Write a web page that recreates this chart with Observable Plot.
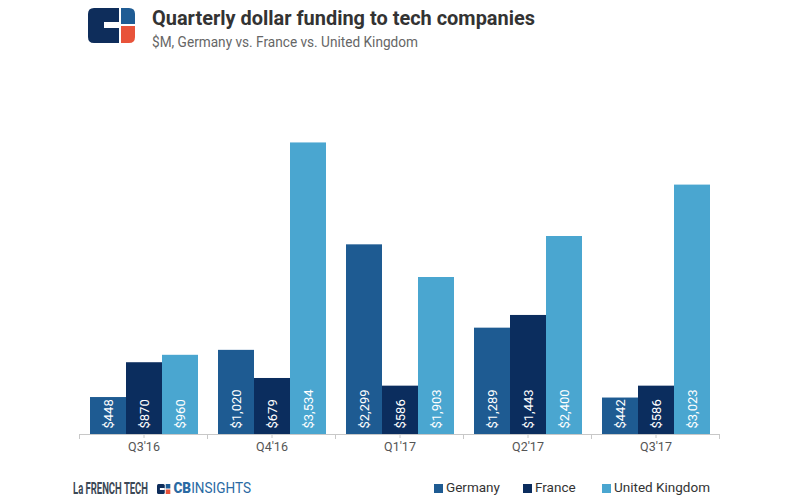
<!DOCTYPE html>
<html>
<head>
<meta charset="utf-8">
<script src="https://cdn.jsdelivr.net/npm/d3@7"></script>
<script src="https://cdn.jsdelivr.net/npm/@observablehq/plot@0.6"></script>
<style>
  html, body { margin: 0; padding: 0; background: #fff; }
  body { width: 800px; height: 500px; position: relative; overflow: hidden; font-family: Roboto, "Noto Sans", sans-serif; }
  #logo { position: absolute; left: 88px; top: 8px; }
  .fit { display: inline-block; transform-origin: left top; white-space: nowrap; }
  #title { position: absolute; left: 152px; top: 6px; font-size: 21px; font-weight: 700; color: #333; }
  #subtitle { position: absolute; left: 152px; top: 34px; font-size: 14px; color: #666; }
  #chart { position: absolute; left: 0; top: 70px; }
  #frenchtech { position: absolute; left: 73px; top: 478px; font-family: Roboto, sans-serif; font-weight: 700; font-size: 17px; color: #3b4856; }
  #cbi { position: absolute; left: 157px; top: 480px; font-size: 14px; color: #2a6aa3; }
  #legend { position: absolute; left: 0; top: 479px; font-size: 13.5px; color: #333; }
  .sw { position: absolute; width: 9px; height: 9px; top: 5px; }
  .lt { position: absolute; top: 0; white-space: nowrap; }
</style>
</head>
<body>
<svg id="logo" width="47" height="35" viewBox="0 0 47 35">
  <path d="M6 0 H31 V14 H16 V20 H31 V35 H6 Q0 35 0 29 V6 Q0 0 6 0 Z" fill="#0e2d5b"/>
  <path d="M33 0 H41 Q47 0 47 6 V16 H33 Z" fill="#1f5c94"/>
  <path d="M33 18 H47 V29 Q47 35 41 35 H33 Z" fill="#e8533a"/>
</svg>
<div id="title" class="fit" data-w="383">Quarterly dollar funding to tech companies</div>
<div id="subtitle" class="fit" data-w="266">$M, Germany vs. France vs. United Kingdom</div>
<div id="chart"></div>
<div id="frenchtech" class="fit" data-w="75">La FRENCH TECH</div>
<div id="cbi" class="fit" data-w="94"><svg width="14" height="10" viewBox="0 0 14 10" style="margin-right:3px;vertical-align:-1px">
    <rect x="0" y="0" width="8" height="10" rx="1.5" fill="#0e2d5b"/>
    <rect x="3" y="4" width="5" height="2" fill="#fff"/>
    <rect x="9" y="0" width="5" height="4.5" fill="#1f5c94"/>
    <rect x="9" y="5.5" width="5" height="4.5" fill="#e8533a"/>
  </svg><span style="font-weight:900">CB</span><span>INSIGHTS</span></div>
<div id="legend"></div>
<script>
const quarters = ["Q3'16", "Q4'16", "Q1'17", "Q2'17", "Q3'17"];
const countries = ["Germany", "France", "United Kingdom"];
const germany = [448, 1020, 2299, 1289, 442];
const france = [870, 679, 586, 1443, 586];
const unitedKingdom = [960, 3534, 1903, 2400, 3023];
const colors = ["#1e5b92", "#0b2d5e", "#4aa6d0"];

const series = [germany, france, unitedKingdom];
const data = quarters.flatMap((q, i) =>
  countries.map((c, j) => ({quarter: q, country: c, value: series[j][i]}))
);
const fmt = d3.format(",");

const chart = Plot.plot({
  width: 800,
  height: 395,
  marginLeft: 77,
  marginRight: 79,
  marginTop: 34,
  marginBottom: 31,
  style: {fontFamily: "Roboto, sans-serif", fontSize: "12.5px", color: "#555", background: "transparent"},
  fx: {domain: quarters, paddingInner: 0.15, paddingOuter: 0.075, axis: "bottom", label: null, tickSize: 4, tickPadding: 4},
  x: {domain: countries, axis: null, padding: 0},
  y: {domain: [0, 4000], axis: null},
  color: {domain: countries, range: colors},
  marks: [
    Plot.barY(data, {fx: "quarter", x: "country", y: "value", fill: "country"}),
    Plot.text(data, {
      fx: "quarter", x: "country", y: 0,
      text: d => "$" + fmt(d.value),
      rotate: -90, textAnchor: "start", dy: -6,
      fill: "white", fontSize: 13
    })
  ]
});
document.getElementById("chart").append(chart);

// axis baseline and group boundary ticks, from Plot's scales
const fxs = chart.scale("fx");
const ys = chart.scale("y");
const svg = d3.select(chart);
const y0 = ys.apply(0);
const gap = (fxs.step - fxs.bandwidth) / 2;
const g = svg.append("g").attr("stroke", "#c8c8c8").attr("stroke-width", 1);
const left = fxs.apply(quarters[0]) - gap;
const right = fxs.apply(quarters[quarters.length - 1]) + fxs.bandwidth + gap;
g.append("line").attr("x1", left).attr("x2", right).attr("y1", y0 + 0.5).attr("y2", y0 + 0.5);
quarters.forEach(q => {
  const xl = fxs.apply(q) - gap;
  g.append("line").attr("x1", xl).attr("x2", xl).attr("y1", y0).attr("y2", y0 + 5);
});
g.append("line").attr("x1", right).attr("x2", right).attr("y1", y0).attr("y2", y0 + 5);
svg.selectAll("[aria-label='fx-axis tick'] path, [aria-label='fx-axis tick'] line").attr("stroke", "#c8c8c8");

// legend
const legendX = [434, 523, 602];
const legend = document.getElementById("legend");
countries.forEach((c, i) => {
  const sw = document.createElement("div");
  sw.className = "sw";
  sw.style.left = legendX[i] + "px";
  sw.style.background = colors[i];
  legend.append(sw);
  const t = document.createElement("div");
  t.className = "lt";
  t.style.left = (legendX[i] + 12) + "px";
  t.textContent = c;
  legend.append(t);
});

// fit header / footer texts to their widths in the reference
document.querySelectorAll(".fit").forEach(el => {
  const w = el.getBoundingClientRect().width;
  const target = +el.dataset.w;
  if (w > 0) el.style.transform = `scaleX(${target / w})`;
});
</script>
</body>
</html>
